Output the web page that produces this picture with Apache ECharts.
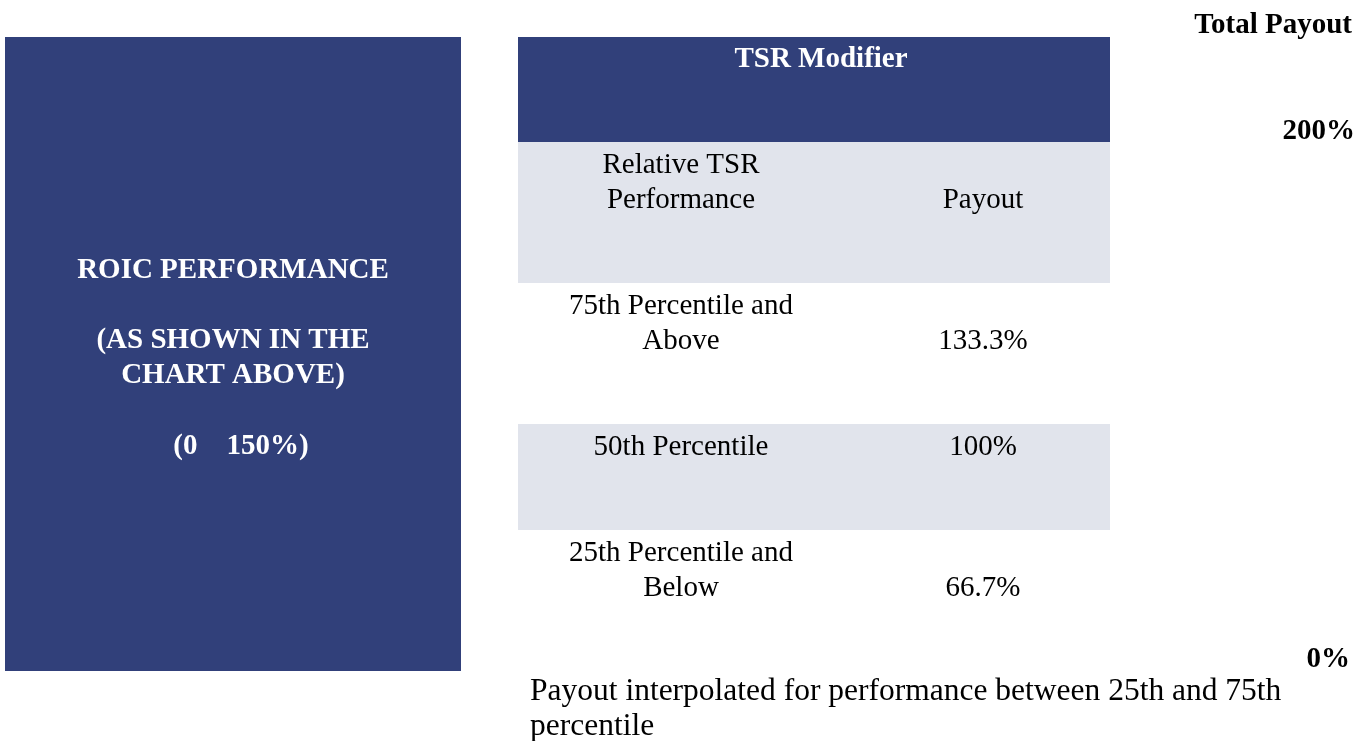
<!DOCTYPE html>
<html>
<head>
<meta charset="utf-8">
<script src="https://cdn.jsdelivr.net/npm/echarts@6/dist/echarts.min.js"></script>
<style>
html,body{margin:0;padding:0;background:#fff;}
#chart{width:1369px;height:741px;}
</style>
</head>
<body>
<div id="chart"></div>
<script>
// ---- data ----
const roicLines = ['ROIC PERFORMANCE', '', '(AS SHOWN IN THE', 'CHART ABOVE)', '', '(0    150%)'];
const tableTitle = 'TSR Modifier';
const columnHeaders = [['Relative TSR', 'Performance'], ['Payout']];
const percentileLabels = [['75th Percentile and', 'Above'], ['50th Percentile'], ['25th Percentile and', 'Below']];
const payoutValues = [133.3, 100, 66.7];
const payoutLabels = ['133.3%', '100%', '66.7%'];
const totalPayoutTitle = 'Total Payout';
const totalPayoutTicks = ['200%', '0%'];
const footnoteLines = ['Payout interpolated for performance between 25th and 75th', 'percentile'];

// ---- layout / style ----
const NAVY = '#31407A';
const GRAY = '#E1E4EC';
const FONT = '"Liberation Serif", "Times New Roman", serif';
const FS = 29;
const LH = 35;
const DY = 3;

const chart = echarts.init(document.getElementById('chart'), null, {renderer: 'canvas'});
const g = [];

function txt(x, y, s, opt) {
  g.push({
    type: 'text', x: x, y: y + DY, silent: true,
    style: Object.assign({
      text: s, fontFamily: FONT, fontSize: FS, fill: '#000',
      align: 'center', verticalAlign: 'middle'
    }, opt || {})
  });
}

// left ROIC box
g.push({type: 'rect', shape: {x: 5, y: 37, width: 456, height: 634}, style: {fill: NAVY}, silent: true});
const roicStartY = 268;
roicLines.forEach((s, i) => {
  if (!s) return;
  const last = i === roicLines.length - 1;
  txt(last ? 241 : 233, roicStartY + i * LH + (last ? 1 : 0), s, {fill: '#fff', fontWeight: 'bold'});
});

// table
const tX = 518, tW = 592;
const col1X = 681, col2X = 983;
g.push({type: 'rect', shape: {x: tX, y: 37, width: tW, height: 105}, style: {fill: NAVY}, silent: true});
txt(821, 57, tableTitle, {fill: '#fff', fontWeight: 'bold'});

const rowTops = [142, 283, 424, 530];
const rowHeights = [141, 141, 106, 141];
const rowFills = [GRAY, null, GRAY, null];
const rows = [
  {left: columnHeaders[0], right: columnHeaders[1][0]}
].concat(percentileLabels.map((l, i) => ({left: l, right: payoutLabels[i]})));

rows.forEach((r, i) => {
  if (rowFills[i]) {
    g.push({type: 'rect', shape: {x: tX, y: rowTops[i], width: tW, height: rowHeights[i]}, style: {fill: rowFills[i]}, silent: true});
  }
  const y0 = rowTops[i] + 20;
  r.left.forEach((s, k) => txt(col1X, y0 + k * LH, s));
  txt(col2X, y0 + (r.left.length - 1) * LH, r.right);
});

// right axis labels
txt(1352, 23, totalPayoutTitle, {align: 'right', fontWeight: 'bold'});
txt(1355, 129, totalPayoutTicks[0], {align: 'right', fontWeight: 'bold'});
txt(1350, 657, totalPayoutTicks[1], {align: 'right', fontWeight: 'bold'});

// footnote
footnoteLines.forEach((s, i) => txt(530, 689 + i * LH, s, {align: 'left', fontSize: 31.5}));

chart.setOption({
  animation: false,
  backgroundColor: '#fff',
  graphic: {elements: g}
});
</script>
</body>
</html>
